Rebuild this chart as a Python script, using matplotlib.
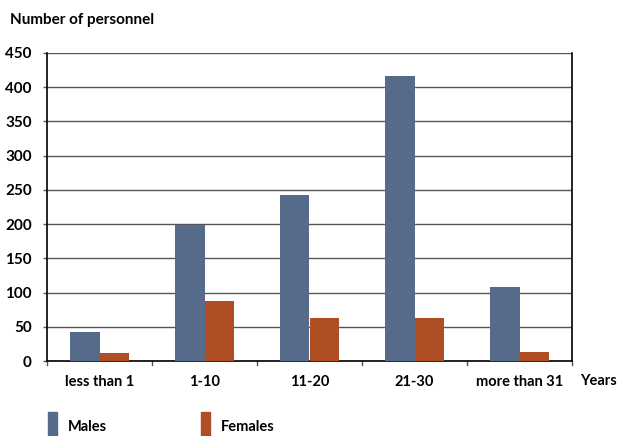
import matplotlib
matplotlib.use("Agg")
import matplotlib.pyplot as plt
import numpy as np
from matplotlib.patches import Rectangle

categories = ["less than 1", "1-10", "11-20", "21-30", "more than 31"]
males = [43, 198, 243, 417, 108]
females = [11, 88, 63, 63, 13]
yticks = [0, 50, 100, 150, 200, 250, 300, 350, 400, 450]

male_color = "#566a89"
female_color = "#b04e23"

plt.rcParams["font.family"] = ["Lato", "DejaVu Sans"]
plt.rcParams["font.weight"] = "bold"

W, H = 619, 436
fig = plt.figure(figsize=(W / 100, H / 100), dpi=100)
ax = fig.add_axes([47 / W, 1 - 361 / H, (572 - 47) / W, (361 - 53) / H])

x = np.arange(len(categories))
bw = 0.28
ax.bar(x - bw / 2, males, bw, color=male_color, zorder=3)
ax.bar(x + bw / 2, females, bw, color=female_color, zorder=3)

ax.set_xlim(-0.5, len(categories) - 0.5)
ax.set_ylim(0, 450)
ax.set_yticks(yticks)
ax.set_yticklabels([str(v) for v in yticks], fontsize=11, fontweight="bold")
ax.yaxis.grid(True, color="#555555", linewidth=1.0, zorder=0)
ax.tick_params(axis="y", length=3, width=1, color="#555555", pad=8)

# category labels centred, ticks at the boundaries
ax.set_xticks(x)
ax.set_xticklabels(categories, fontsize=10.5, fontweight="bold")
ax.tick_params(axis="x", length=0, pad=10)
for b in np.arange(-0.5, len(categories), 1.0):
    ax.plot([b, b], [0, -6], color="#555555", lw=1, clip_on=False,
            transform=ax.get_xaxis_transform() if False else ax.transData)

for s in ["left", "right", "bottom"]:
    ax.spines[s].set_color("black")
    ax.spines[s].set_linewidth(1.2)
ax.spines["top"].set_visible(False)

fig.text(10 / W, 1 - 20 / H, "Number of personnel", fontsize=11,
         fontweight="bold", va="center", ha="left")
fig.text(580 / W, 1 - 381 / H, "Years", fontsize=10.5, fontweight="bold",
         va="center", ha="left")

# legend
for px, label, col in [(48, "Males", male_color), (201, "Females", female_color)]:
    fig.patches.append(Rectangle((px / W, 0), 9 / W, (436 - 412) / H,
                                 transform=fig.transFigure, color=col))
    fig.text((px + 20) / W, 1 - 427 / H, label, fontsize=10.5,
             fontweight="bold", va="center", ha="left")

fig.savefig("out.png", dpi=100)
